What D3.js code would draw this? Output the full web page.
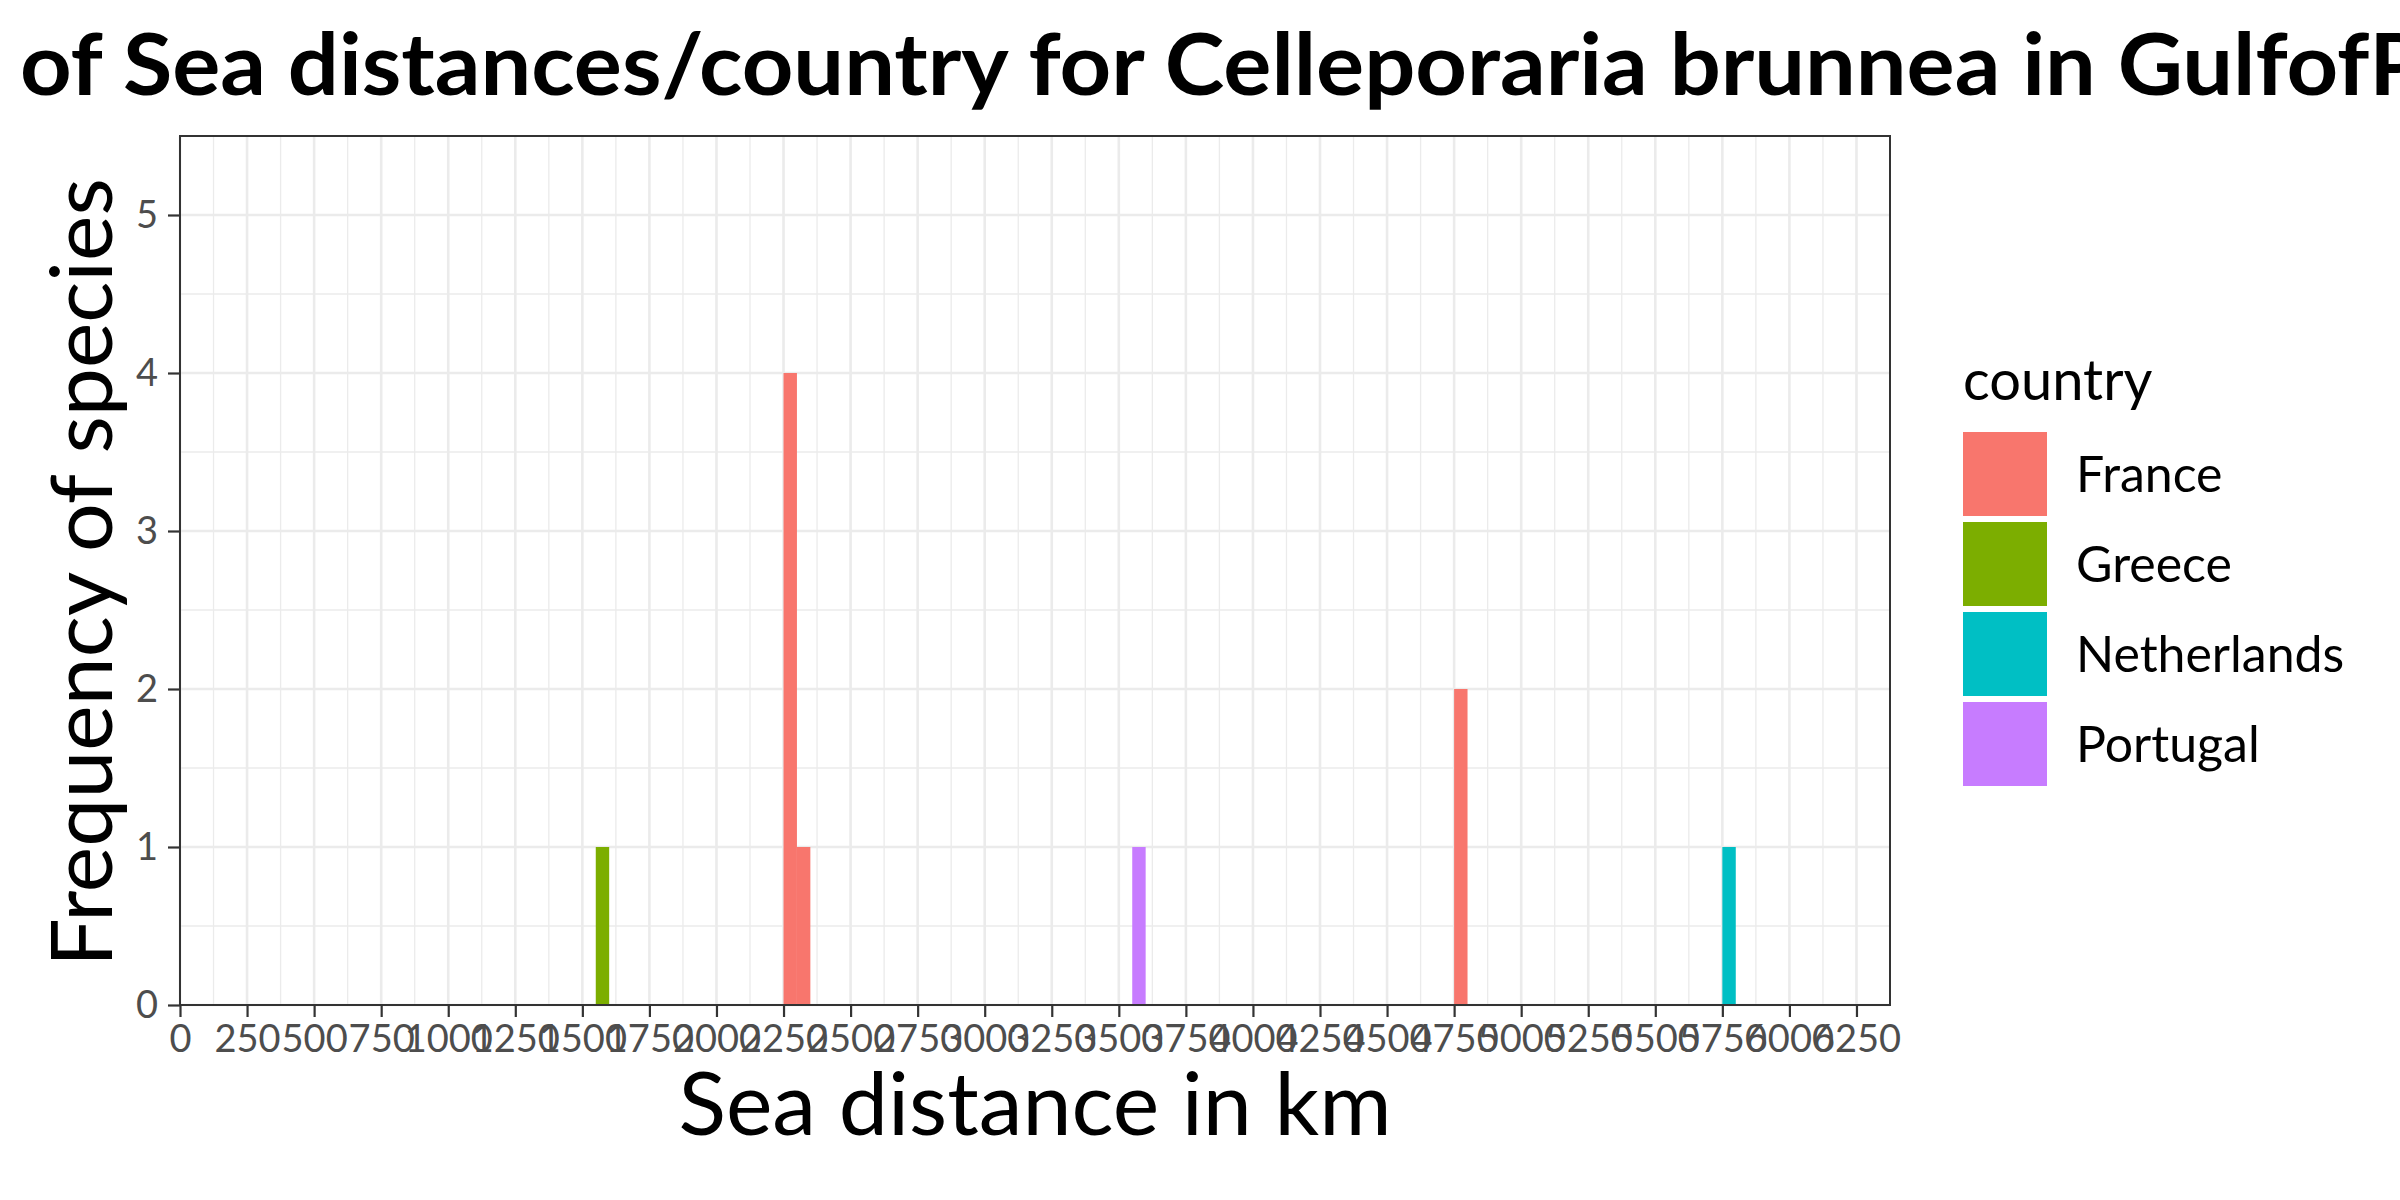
<!DOCTYPE html>
<html>
<head>
<meta charset="utf-8">
<script src="https://cdn.jsdelivr.net/npm/d3@7"></script>
<style>
  body { margin: 0; background: #fff; }
  svg { display: block; font-family: Lato, "Open Sans", sans-serif; }
</style>
</head>
<body>
<div id="chart"></div>
<script>
// histogram bins (binwidth 50 km)
const binStart = [1550, 2250, 2300, 3550, 4750, 5750];
const binCount = [1, 4, 1, 1, 2, 1];
const binCountry = ['Greece', 'France', 'France', 'Portugal', 'France', 'Netherlands'];
const binWidth = 50;

const countries = ['France', 'Greece', 'Netherlands', 'Portugal'];
const countryColors = ['#F8766D', '#7CAE00', '#00BFC4', '#C77CFF'];

const xTicks = [0, 250, 500, 750, 1000, 1250, 1500, 1750, 2000, 2250, 2500, 2750, 3000,
    3250, 3500, 3750, 4000, 4250, 4500, 4750, 5000, 5250, 5500, 5750, 6000, 6250];
const yTicks = [0, 1, 2, 3, 4, 5];

const titleText = 'of Sea distances/country for Celleporaria brunnea in GulfofP';
const xTitle = 'Sea distance in km';
const yTitle = 'Frequency of species';
const legendTitle = 'country';

const W = 2400, H = 1200;
const panel = { left: 180, right: 1890, top: 136, bottom: 1005 };

const svg = d3.select('#chart').append('svg').attr('width', W).attr('height', H);

const x = d3.scaleLinear().domain([0, 6375]).range([panel.left, panel.right]);
const y = d3.scaleLinear().domain([0, 5.5]).range([panel.bottom, panel.top]);
const color = d3.scaleOrdinal().domain(countries).range(countryColors);

// grid: minor lines halfway between the major ones
const xMinor = xTicks.map((d) => d + 125).filter((d) => d < 6375);
const yMinor = yTicks.map((d) => d + 0.5);

const grid = svg.append('g');
grid.selectAll('.xminor').data(xMinor).enter().append('line')
    .attr('x1', (d) => x(d)).attr('x2', (d) => x(d))
    .attr('y1', panel.top).attr('y2', panel.bottom)
    .attr('stroke', '#EBEBEB').attr('stroke-width', 1.3);
grid.selectAll('.yminor').data(yMinor).enter().append('line')
    .attr('x1', panel.left).attr('x2', panel.right)
    .attr('y1', (d) => y(d)).attr('y2', (d) => y(d))
    .attr('stroke', '#EBEBEB').attr('stroke-width', 1.3);
grid.selectAll('.xmajor').data(xTicks).enter().append('line')
    .attr('x1', (d) => x(d)).attr('x2', (d) => x(d))
    .attr('y1', panel.top).attr('y2', panel.bottom)
    .attr('stroke', '#EBEBEB').attr('stroke-width', 2.6);
grid.selectAll('.ymajor').data(yTicks).enter().append('line')
    .attr('x1', panel.left).attr('x2', panel.right)
    .attr('y1', (d) => y(d)).attr('y2', (d) => y(d))
    .attr('stroke', '#EBEBEB').attr('stroke-width', 2.6);

// bars
svg.selectAll('.bar')
    .data(binStart.map((d, i) => ({ start: d, count: binCount[i], country: binCountry[i] })))
    .enter()
    .append('rect')
    .attr('class', 'bar')
    .attr('x', (d) => x(d.start))
    .attr('width', (d) => x(d.start + binWidth) - x(d.start))
    .attr('y', (d) => y(d.count))
    .attr('height', (d) => y(0) - y(d.count))
    .attr('fill', (d) => color(d.country));

// panel border
svg.append('rect')
    .attr('x', panel.left).attr('y', panel.top)
    .attr('width', panel.right - panel.left).attr('height', panel.bottom - panel.top)
    .attr('fill', 'none').attr('stroke', '#333333').attr('stroke-width', 2);

// axes
const xAxis = svg.append('g')
    .attr('transform', `translate(0,${panel.bottom})`)
    .call(d3.axisBottom(x).tickValues(xTicks).tickSize(12).tickPadding(8).tickFormat(d3.format('d')));
const yAxis = svg.append('g')
    .attr('transform', `translate(${panel.left},0)`)
    .call(d3.axisLeft(y).tickValues(yTicks).tickSize(12).tickPadding(10).tickFormat(d3.format('d')));

[xAxis, yAxis].forEach((g) => {
    g.select('.domain').remove();
    g.selectAll('line').attr('stroke', '#333333').attr('stroke-width', 2.2);
    g.selectAll('text').attr('fill', '#4D4D4D').style('font-size', '38px').style('font-family', 'Lato');
});

// titles (the plot title runs off the right edge, as in the original)
svg.append('text')
    .attr('x', 20).attr('y', 95)
    .attr('textLength', 2405).attr('lengthAdjust', 'spacingAndGlyphs')
    .style('font-size', '86px').style('font-weight', 'bold')
    .attr('fill', '#000')
    .text(titleText);

svg.append('text')
    .attr('x', (panel.left + panel.right) / 2).attr('y', 1135)
    .attr('text-anchor', 'middle')
    .style('font-size', '88px')
    .text(xTitle);

svg.append('text')
    .attr('transform', `translate(112,${(panel.top + panel.bottom) / 2 + 2}) rotate(-90)`)
    .attr('text-anchor', 'middle')
    .style('font-size', '86px')
    .text(yTitle);

// legend
const legend = svg.append('g');
legend.append('text')
    .attr('x', 1963).attr('y', 400)
    .style('font-size', '56px')
    .text(legendTitle);

const items = legend.selectAll('.item').data(countries).enter().append('g')
    .attr('transform', (d, i) => `translate(1963,${432 + i * 90})`);
items.append('rect')
    .attr('width', 84).attr('height', 84)
    .attr('fill', (d) => color(d));
items.append('text')
    .attr('x', 113).attr('y', 42)
    .attr('dy', '0.36em')
    .style('font-size', '50px')
    .text((d) => d);
</script>
</body>
</html>
